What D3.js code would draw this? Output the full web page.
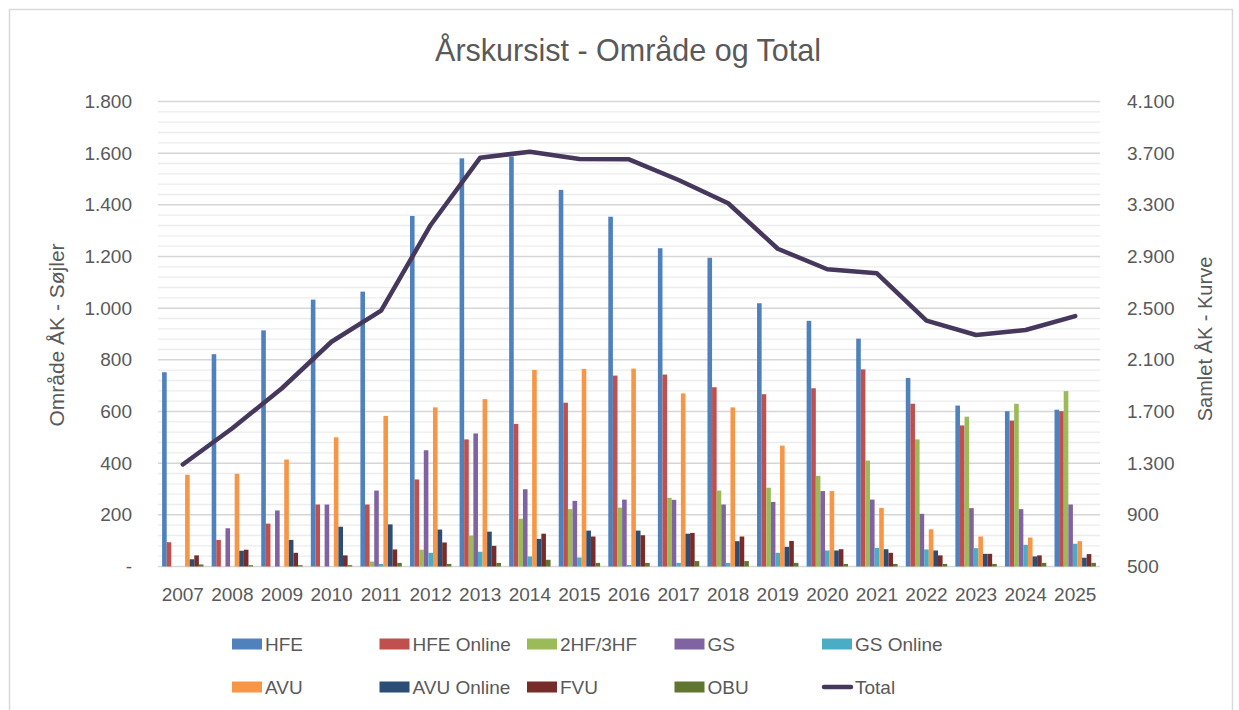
<!DOCTYPE html>
<html><head><meta charset="utf-8">
<script src="https://cdn.jsdelivr.net/npm/d3@7"></script>
<style>body{margin:0;background:#fff;} svg{display:block;font-family:"Liberation Sans",Arial,sans-serif;}</style>
</head><body><svg id="c" width="1239" height="710"></svg>
<script>
const years = [2007,2008,2009,2010,2011,2012,2013,2014,2015,2016,2017,2018,2019,2020,2021,2022,2023,2024,2025];
const HFE       = [752, 822, 914,1033,1064,1357,1580,1587,1458,1354,1232,1195,1019, 951, 882, 730, 623, 601, 607];
const HFEOnline = [ 94, 103, 166, 240, 240, 337, 492, 552, 634, 739, 743, 694, 667, 690, 763, 630, 546, 565, 601];
const HF23      = [  0,   0,   0,   0,  19,  65, 120, 185, 222, 228, 266, 294, 305, 351, 410, 492, 580, 630, 679];
const GS        = [  0, 148, 217, 240, 294, 450, 515, 299, 254, 259, 258, 240, 250, 292, 259, 204, 226, 222, 240];
const GSOnline  = [  0,   0,   0,   0,  10,  53,  57,  39,  35,   6,  14,  14,  53,  62,  72,  66,  71,  84,  88];
const AVU       = [355, 359, 414, 500, 583, 616, 648, 761, 765, 766, 670, 616, 468, 292, 227, 144, 116, 112,  98];
const AVUOnline = [ 28,  61, 103, 154, 163, 143, 135, 107, 139, 139, 127,  98,  76,  62,  67,  62,  49,  39,  34];
const FVU       = [ 43,  65,  53,  43,  66,  93,  80, 127, 116, 121, 130, 116,  99,  67,  53,  43,  49,  43,  48];
const OBU       = [  8,   5,   5,   5,  14,  10,  14,  26,  14,  14,  21,  21,  14,  10,  10,  10,  10,  14,  14];
const Total     = [1290,1570,1880,2240,2481,3144,3665,3711,3655,3652,3492,3312,2960,2801,2770,2403,2292,2331,2439];

const seriesNames  = ["HFE","HFE Online","2HF/3HF","GS","GS Online","AVU","AVU Online","FVU","OBU"];
const seriesValues = [HFE,HFEOnline,HF23,GS,GSOnline,AVU,AVUOnline,FVU,OBU];
const seriesColors = ["#4F81BD","#C0504D","#9BBB59","#8064A2","#4BACC6","#F79646","#2C4D75","#772C2A","#5F7530"];
const totalName = "Total", totalColor = "#46375C";
const leftTicks  = [0,200,400,600,800,1000,1200,1400,1600,1800];
const rightTicks = [500,900,1300,1700,2100,2500,2900,3300,3700,4100];
const titleText = "Årskursist - Område og Total";
const leftTitle = "Område ÅK - Søjler";
const rightTitle = "Samlet ÅK - Kurve";

const loc = d3.formatLocale({decimal:",", thousands:".", grouping:[3], currency:["",""]});
const fmt = loc.format(",");

const svg = d3.select("#c");
const textCol = "#595959";
const L = 158, R = 1100, T = 101.5, B = 566.5;

// chart frame
svg.append("rect").attr("x",9.5).attr("y",9.5).attr("width",1223).attr("height",730)
  .attr("fill","#fff").attr("stroke","#d9d9d9").attr("stroke-width",1.5);

const x = d3.scaleBand().domain(years).range([L,R]).padding(0);
const xs = d3.scaleBand().domain(seriesNames).range([0,x.bandwidth()]).paddingInner(0).paddingOuter(0.89);
const yL = d3.scaleLinear().domain([0,1800]).range([B,T]);
const yR = d3.scaleLinear().domain([500,4100]).range([B,T]);

// minor gridlines
const minor = d3.range(0,1801,40).filter(v => v % 200 !== 0);
svg.append("g").selectAll("line").data(minor).join("line")
  .attr("x1",L).attr("x2",R).attr("y1",d=>yL(d)).attr("y2",d=>yL(d))
  .attr("stroke","#ececec").attr("stroke-width",1.3);
// major gridlines
svg.append("g").selectAll("line").data(leftTicks).join("line")
  .attr("x1",L).attr("x2",R).attr("y1",d=>yL(d)).attr("y2",d=>yL(d))
  .attr("stroke","#d6d6d6").attr("stroke-width",1.5);

// bars
const gBars = svg.append("g");
seriesNames.forEach((name,si) => {
  gBars.append("g").selectAll("rect").data(years).join("rect")
    .attr("x", (d,i) => x(d) + xs(name))
    .attr("width", xs.bandwidth())
    .attr("y", (d,i) => yL(seriesValues[si][i]))
    .attr("height", (d,i) => B - yL(seriesValues[si][i]))
    .attr("fill", seriesColors[si]);
});

// total line
const line = d3.line().x((d,i)=>x(years[i])+x.bandwidth()/2).y(d=>yR(d));
svg.append("path").datum(Total).attr("d",line).attr("fill","none")
  .attr("stroke",totalColor).attr("stroke-width",4.5)
  .attr("stroke-linejoin","round").attr("stroke-linecap","round");

// axes
const fs = 19;
const axL = svg.append("g").attr("transform",`translate(${L},0)`)
  .call(d3.axisLeft(yL).tickValues(leftTicks).tickSize(0).tickPadding(26)
    .tickFormat(d => d === 0 ? "-" : fmt(d)));
const axR = svg.append("g").attr("transform",`translate(${R},0)`)
  .call(d3.axisRight(yR).tickValues(rightTicks).tickSize(0).tickPadding(27)
    .tickFormat(d => fmt(d)));
const axX = svg.append("g").attr("transform",`translate(0,${B})`)
  .call(d3.axisBottom(x).tickSize(0).tickPadding(21).tickFormat(d=>String(d)));
[axL,axR,axX].forEach(a => {
  a.select(".domain").remove();
  a.selectAll("text").attr("fill",textCol).style("font-size",fs+"px")
    .style("font-family","'Liberation Sans',Arial,sans-serif");
});

// titles
svg.append("text").attr("x",628).attr("y",50).attr("text-anchor","middle")
  .attr("dominant-baseline","central").attr("fill",textCol)
  .style("font-size","30.5px").text(titleText);
svg.append("text").attr("transform","translate(56,335) rotate(-90)")
  .attr("text-anchor","middle").attr("dominant-baseline","central")
  .attr("fill",textCol).style("font-size","21px").text(leftTitle);
svg.append("text").attr("transform","translate(1205,339) rotate(-90)")
  .attr("text-anchor","middle").attr("dominant-baseline","central")
  .attr("fill",textCol).style("font-size","20px").text(rightTitle);

// legend
const legendItems = seriesNames.map((n,i)=>({name:n,color:seriesColors[i],line:false}))
  .concat([{name:totalName,color:totalColor,line:true}]);
const colX = [232,379.5,527,674.5,822];
const rowY = [644,687];
const lg = svg.append("g");
legendItems.forEach((it,i) => {
  const cx = colX[i%5], cy = rowY[Math.floor(i/5)];
  if (it.line) {
    lg.append("line").attr("x1",cx+2).attr("x2",cx+29).attr("y1",cy).attr("y2",cy)
      .attr("stroke",it.color).attr("stroke-width",4.5).attr("stroke-linecap","round");
  } else {
    lg.append("rect").attr("x",cx).attr("y",cy-5.5).attr("width",30).attr("height",11).attr("fill",it.color);
  }
  lg.append("text").attr("x",cx+33).attr("y",cy).attr("dominant-baseline","central")
    .attr("fill",textCol).style("font-size",fs+"px").text(it.name);
});
</script>
</body></html>
